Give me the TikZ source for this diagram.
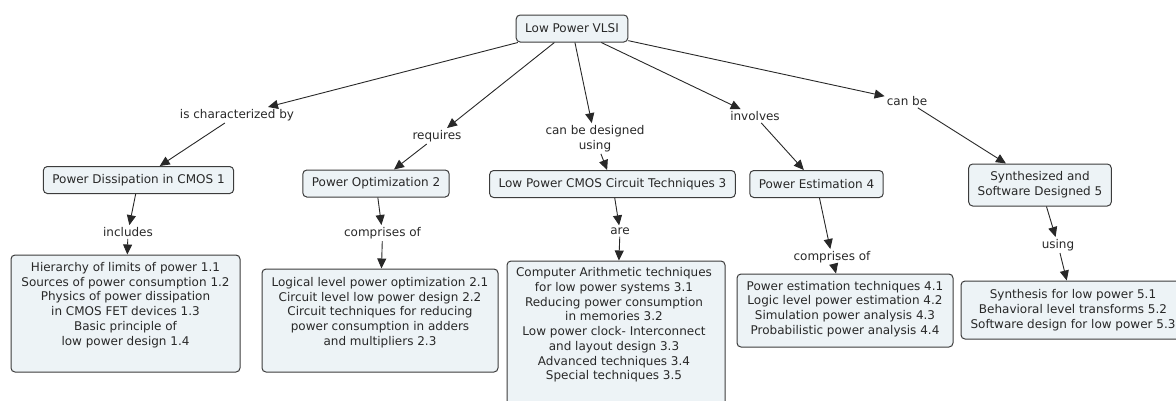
\documentclass[tikz,border=0pt]{standalone}
\usepackage{fontspec}
\setmainfont{DejaVu Sans}
\usetikzlibrary{arrows.meta}
\definecolor{boxfill}{RGB}{237,243,246}
\definecolor{ink}{RGB}{40,40,40}
\definecolor{edge}{RGB}{60,60,60}
\tikzset{
  concept/.style={draw=edge, line width=1pt, fill=boxfill, rounded corners=4pt,
    inner xsep=9pt, inner ysep=3pt, minimum height=27pt, align=center,
    text=ink, font=\fontsize{12}{14.7}\selectfont},
  bigbox/.style={draw=edge, line width=1pt, fill=boxfill, rounded corners=4pt,
    inner sep=0pt},
  boxtext/.style={align=center, inner sep=0pt, text=ink,
    font=\fontsize{12}{14.7}\selectfont},
  linklabel/.style={align=center, inner sep=2pt, text=ink,
    font=\fontsize{12}{14.7}\selectfont},
  link/.style={draw=ink, line width=0.9pt, -{Triangle[length=10pt,width=9pt]}},
}
\begin{document}
\begin{tikzpicture}[x=1pt,y=-1pt]
\useasboundingbox (0,0) rectangle (1176,400);
\clip (0,0) rectangle (1176,400);

% concepts
\node[concept] (root) at (572,28.5) {Low Power VLSI};
\node[concept] (c1) at (138.5,180) {Power Dissipation in CMOS 1};
\node[concept] (c2) at (376,183.5) {Power Optimization 2};
\node[concept] (c3) at (612.5,184) {Low Power CMOS Circuit Techniques 3};
\node[concept] (c4) at (816.5,184) {Power Estimation 4};
\node[concept, minimum width=142pt, minimum height=42pt] (c5) at (1040,185) {Synthesized and\\Software Designed 5};

% link labels
\node[linklabel] (l1) at (237,115) {is characterized by};
\node[linklabel] (l2) at (437,136) {requires};
\node[linklabel] (l3) at (595,138.5) {can be designed\\using};
\node[linklabel] (l4) at (755,116) {involves};
\node[linklabel] (l5) at (907,101) {can be};
\node[linklabel] (m1) at (128,232) {includes};
\node[linklabel] (m2) at (382.5,233) {comprises of};
\node[linklabel] (m3) at (620,231) {are};
\node[linklabel] (m4) at (832,257) {comprises of};
\node[linklabel] (m5) at (1058,245) {using};

% big boxes
\node[bigbox, minimum width=229pt, minimum height=117pt] (b1) at (125.5,313.5) {};
\node[boxtext] (t1) at (125.5,305) {Hierarchy of limits of power 1.1\\Sources of power consumption 1.2\\Physics of power dissipation\\in CMOS FET devices 1.3\\Basic principle of\\low power design 1.4};

\node[bigbox, minimum width=236pt, minimum height=103pt] (b2) at (380,320.5) {};
\node[boxtext] (t2) at (380,312.5) {Logical level power optimization 2.1\\Circuit level low power design 2.2\\Circuit techniques for reducing\\power consumption in adders\\and multipliers 2.3};

\node[bigbox, minimum width=218pt, minimum height=150pt] (b3) at (616,336) {};
\node[boxtext] (t3) at (614,325) {Computer Arithmetic techniques\\for low power systems 3.1\\Reducing power consumption\\in memories 3.2\\Low power clock- Interconnect\\and layout design 3.3\\Advanced techniques 3.4\\Special techniques 3.5};

\node[bigbox, minimum width=216pt, minimum height=73pt] (b4) at (845,310.5) {};
\node[boxtext] (t4) at (845,309) {Power estimation techniques 4.1\\Logic level power estimation 4.2\\Simulation power analysis 4.3\\Probabilistic power analysis 4.4};

\node[bigbox, minimum width=226pt, minimum height=58pt] (b5) at (1074,310) {};
\node[boxtext] (t5) at (1073,310) {Synthesis for low power 5.1\\Behavioral level transforms 5.2\\Software design for low power 5.3};

% connectors
\draw[link] (root) -- (l1);
\draw[link] (l1) -- (c1);
\draw[link] (root) -- (l2);
\draw[link] (l2) -- (c2);
\draw[link] (root) -- (l3);
\draw[link] (l3) -- (c3);
\draw[link] (root) -- (l4);
\draw[link] (l4) -- (c4);
\draw[link] (root) -- (l5);
\draw[link] (l5) -- (c5);

\draw[link] (c1) -- (m1);
\draw[link] (m1) -- (b1);
\draw[link] (c2) -- (m2);
\draw[link] (m2) -- (b2);
\draw[link] (c3) -- (m3);
\draw[link] (m3) -- (b3);
\draw[link] (c4) -- (m4);
\draw[link] (m4) -- (b4);
\draw[link] (c5) -- (m5);
\draw[link] (m5) -- (b5);
\end{tikzpicture}
\end{document}
